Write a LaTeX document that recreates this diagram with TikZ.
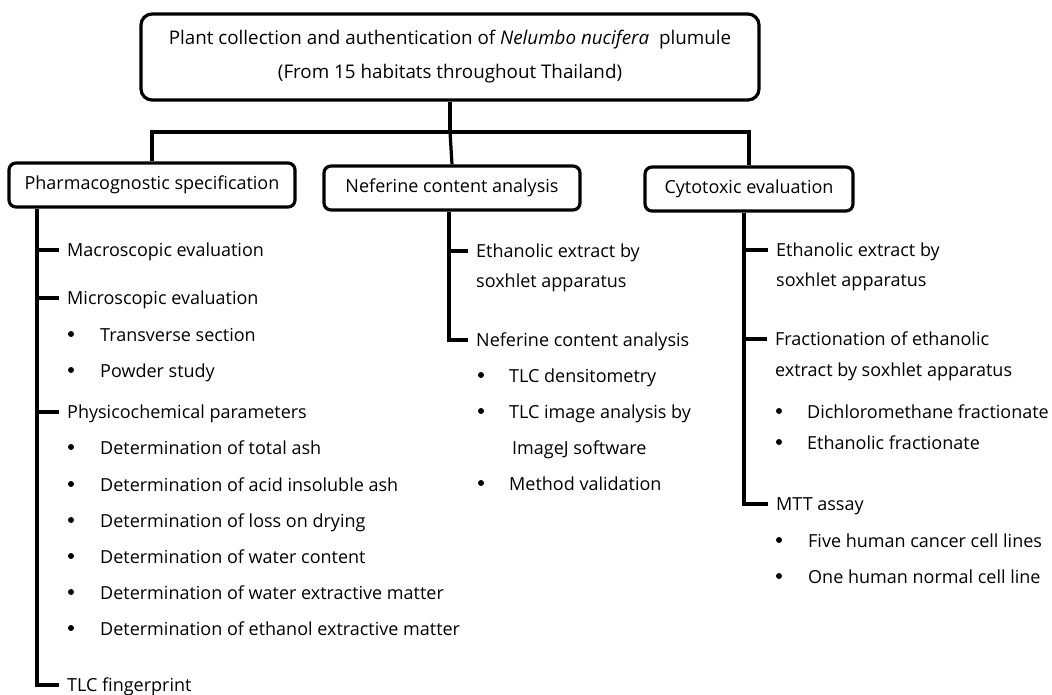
\documentclass[tikz,border=0pt]{standalone}
\usepackage{fontspec}
\setmainfont{Open Sans}
\newcommand\myfs{\fontsize{18}{21}\selectfont}
\begin{document}
\begin{tikzpicture}[x=1pt,y=-1pt,
  box/.style={draw, rounded corners=7pt, line width=3.2pt, inner sep=0pt, font=\myfs},
  txt/.style={anchor=west, inner sep=0pt, text height=13pt, text depth=0pt, font=\myfs},
  bul/.style={circle, fill, inner sep=0pt, minimum size=6pt},
  tree/.style={line width=3.2pt},
  tick/.style={tree, shorten >=8pt}]
\useasboundingbox[fill=white] (0,0) rectangle (1052,694);

% main boxes
\node[box, rounded corners=11pt, minimum width=618pt, minimum height=86pt, align=center,
      font=\fontsize{18.8}{34}\selectfont] (top) at (450,57)
  {Plant collection and authentication of \textit{Nelumbo nucifera}\ \ plumule\\(From 15 habitats throughout Thailand)};
\path (top.north) ++(0,0);
\node[box, minimum width=286pt, minimum height=44pt] (pharm) at (152,185) {Pharmacognostic specification};
\node[box, minimum width=256pt, minimum height=44pt] (nef) at (452,188) {Neferine content analysis};
\node[box, minimum width=208pt, minimum height=44pt] (cyto) at (749,189) {Cytotoxic evaluation};

\coordinate (hub) at (450,132);
\draw[tree] (top.south) -- (hub);
\draw[tree] (pharm.north) -- (pharm.north |- hub) -- (cyto.north |- hub) -- (cyto.north);
\draw[tree] (hub) -- (nef.north);

% left column
\coordinate (pv) at (37,0);
\node[txt] (macro) at (67,250) {Macroscopic evaluation};
\node[txt] (micro) at (67,298) {Microscopic evaluation};
\node[bul] (b1) at (71,334) {}; \node[txt] (trans) at (100,335) {Transverse section};
\node[bul] (b2) at (71,370) {}; \node[txt] (powder) at (100,371) {Powder study};
\node[txt] (physico) at (67,412) {Physicochemical parameters};
\node[bul] (b3) at (71,447) {}; \node[txt] (ash) at (100,448) {Determination of total ash};
\node[bul] (b4) at (71,484) {}; \node[txt] (acid) at (100,485) {Determination of acid insoluble ash};
\node[bul] (b5) at (71,520) {}; \node[txt] (loss) at (100,521) {Determination of loss on drying};
\node[bul] (b6) at (71,556) {}; \node[txt] (water) at (100,557) {Determination of water content};
\node[bul] (b7) at (71,592) {}; \node[txt] (wext) at (100,593) {Determination of water extractive matter};
\node[bul] (b8) at (71,628) {}; \node[txt] (eext) at (100,629) {Determination of ethanol extractive matter};
\node[txt] (tlcf) at (67,685) {TLC fingerprint};

\draw[tick] (pharm.south -| pv) |- (tlcf.west);
\draw[tick] (macro.west -| pv) -- (macro.west);
\draw[tick] (micro.west -| pv) -- (micro.west);
\draw[tick] (physico.west -| pv) -- (physico.west);

% middle column
\coordinate (mv) at (449,0);
\node[txt] (ext1) at (476,251) {Ethanolic extract by};
\node[txt] (ext1b) at (476,281) {soxhlet apparatus};
\node[txt] (nca) at (476,340) {Neferine content analysis};
\node[bul] (b9) at (481,375) {}; \node[txt] (dens) at (509,376) {TLC densitometry};
\node[bul] (b10) at (481,411) {}; \node[txt] (img) at (509,412) {TLC image analysis by};
\node[txt] (imgj) at (512,448) {ImageJ software};
\node[bul] (b11) at (481,483) {}; \node[txt] (valid) at (509,484) {Method validation};

\draw[tick] (nef.south -| mv) |- (nca.west);
\draw[tick] (ext1.west -| mv) -- (ext1.west);

% right column
\coordinate (rv) at (744,0);
\node[txt] (ext2) at (776,250) {Ethanolic extract by};
\node[txt] (ext2b) at (776,280) {soxhlet apparatus};
\node[txt] (frac) at (775,339) {Fractionation of ethanolic};
\node[txt] (fracb) at (775,370) {extract by soxhlet apparatus};
\node[bul] (b12) at (779,411) {}; \node[txt] (dcm) at (807,412) {Dichloromethane fractionate};
\node[bul] (b13) at (779,442) {}; \node[txt] (etf) at (807,443) {Ethanolic fractionate};
\node[txt] (mtt) at (776,504) {MTT assay};
\node[bul] (b14) at (779,540) {}; \node[txt] (five) at (808,541) {Five human cancer cell lines};
\node[bul] (b15) at (779,576) {}; \node[txt] (one) at (808,577) {One human normal cell line};

\draw[tick] (cyto.south -| rv) |- (mtt.west);
\draw[tick] (ext2.west -| rv) -- (ext2.west);
\draw[tick] (frac.west -| rv) -- (frac.west);
\end{tikzpicture}
\end{document}
